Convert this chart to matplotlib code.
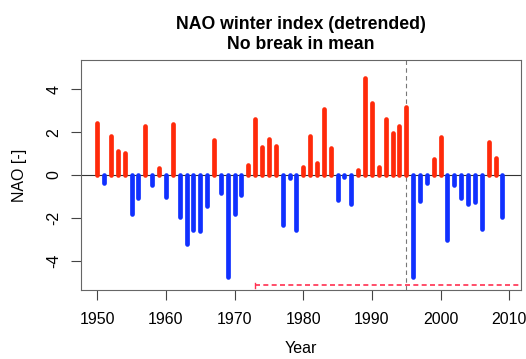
import numpy as np
import matplotlib
matplotlib.use('Agg')
import matplotlib.pyplot as plt

plt.rcParams['font.family'] = ['Liberation Sans', 'DejaVu Sans']

years = list(range(1950, 2010))
nao = [2.43, -0.39, 1.80, 1.14, 1.02, -1.80, -1.05, 2.27, -0.47, 0.31,
       -1.02, 2.39, -1.96, -3.21, -2.55, -2.61, -1.44, 1.64, -0.86, -4.77,
       -1.80, -0.94, 0.47, 2.61, 1.30, 1.67, 1.36, -2.35, -0.12, -2.55,
       0.36, 1.83, 0.55, 3.08, 1.25, -1.17, -0.10, -1.36, 0.23, 4.54,
       3.36, 0.39, 2.61, 1.96, 2.30, 3.18, -4.77, -1.20, -0.36, 0.74,
       1.77, -3.05, -0.47, -1.05, -1.36, -1.25, -2.50, 1.52, 0.78, -1.96]
break_year = 1995
segment_start = 1973
segment_level = -5.14

years = np.array(years)
nao = np.array(nao)

fig = plt.figure(figsize=(5.26, 3.59), dpi=100)
ax = fig.add_axes([0.154, 0.192, 0.836, 0.641])

ax.axhline(0, color='#333333', lw=0.8, zorder=1)
pos = nao >= 0
ax.vlines(years[pos], 0, nao[pos], color='#ff2a0a', lw=3.4, capstyle='round', zorder=2)
ax.vlines(years[~pos], 0, nao[~pos], color='#1030ff', lw=3.4, capstyle='round', zorder=2)

ax.axvline(break_year, color='#777777', lw=0.8, ls=(0, (4, 3)), zorder=1)
ax.plot([segment_start, 2012], [segment_level, segment_level], color='#ff3050',
        lw=1.2, ls=(0, (3, 2)), zorder=3)
ax.plot([segment_start, segment_start], [segment_level - 0.12, segment_level + 0.12],
        color='#ff3050', lw=1.0, zorder=3)

ax.set_xlim(1947.63, 2011.67)
ax.set_ylim(-5.37, 5.37)
ax.set_xticks([1950, 1960, 1970, 1980, 1990, 2000, 2010])
ax.set_yticks([-4, -2, 0, 2, 4])
ax.set_yticklabels(['-4', '-2', '0', '2', '4'], rotation=90, va='center')
ax.tick_params(axis='both', length=7, width=0.8, color='#444444', labelsize=11.5)
ax.tick_params(axis='x', pad=9)
ax.tick_params(axis='y', pad=7)
for s in ax.spines.values():
    s.set_color('#666666')
    s.set_linewidth(0.8)

ax.set_xlabel('Year', fontsize=11.5, labelpad=10)
ax.set_ylabel('NAO [-]', fontsize=11.5, labelpad=14)
ax.set_title('NAO winter index (detrended)\nNo break in mean', fontsize=12.7,
             fontweight='bold', pad=8, linespacing=1.25)

fig.savefig('out.png', dpi=100)
